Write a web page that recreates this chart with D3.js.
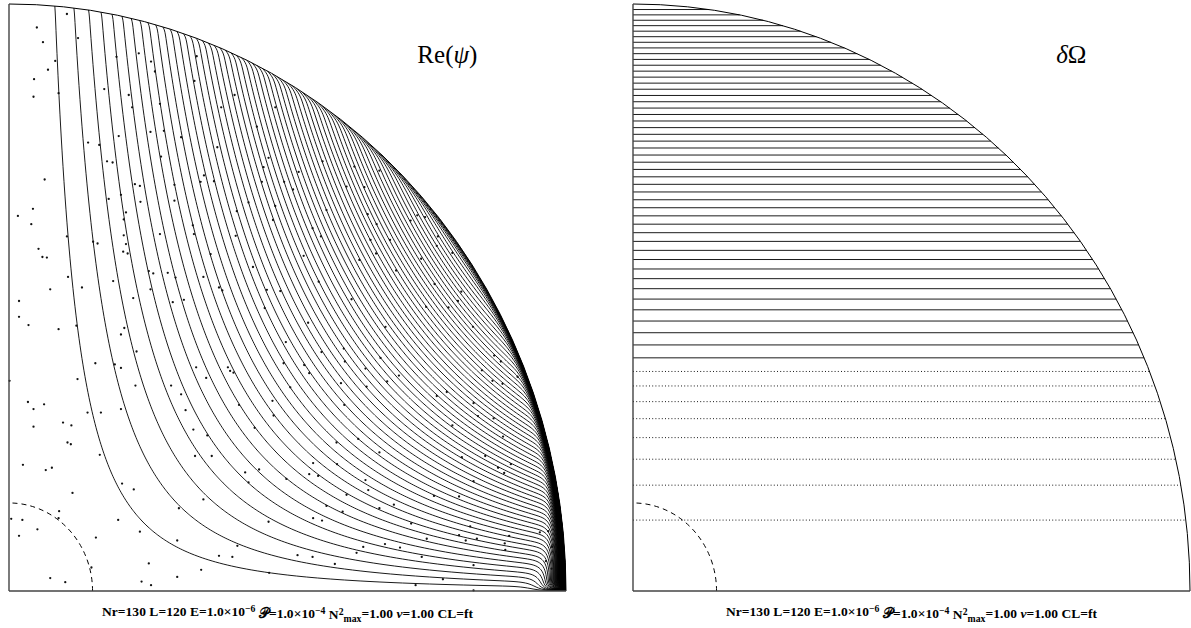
<!DOCTYPE html>
<html>
<head>
<meta charset="utf-8">
<script src="https://cdn.jsdelivr.net/npm/d3@7"></script>
<style>
	body { margin: 0; background: #fff; }
	svg { display: block; }
</style>
</head>
<body>
<div id="chart"></div>
<script>
// ---- values ----

// Re(psi): contour levels, one per streamline (uniform step)
var psiLevels = [0.0068, 0.0136, 0.0204, 0.0272, 0.0340, 0.0408, 0.0476, 0.0544, 0.0612, 0.0680,
	0.0748, 0.0816, 0.0884, 0.0952, 0.1020, 0.1088, 0.1156, 0.1224, 0.1292, 0.1360,
	0.1428, 0.1496, 0.1564, 0.1632, 0.1700, 0.1768, 0.1836, 0.1904, 0.1972, 0.2040,
	0.2108, 0.2176, 0.2244, 0.2312, 0.2380, 0.2448, 0.2516, 0.2584, 0.2652, 0.2720,
	0.2788, 0.2856, 0.2924, 0.2992, 0.3060, 0.3128, 0.3196, 0.3264, 0.3332, 0.3400,
	0.3468, 0.3536, 0.3604, 0.3672, 0.3740, 0.3808, 0.3876, 0.3944, 0.4012, 0.4080,
	0.4148, 0.4216, 0.4284, 0.4352, 0.4420, 0.4488];

// delta Omega: height z of each (horizontal) contour, bottom to top
var omegaLevelZ = [0.1208, 0.1803, 0.2245, 0.2613, 0.2936, 0.3226, 0.3493, 0.3740,
	0.3972, 0.4192, 0.4400, 0.4599, 0.4790, 0.4973, 0.5150, 0.5321, 0.5486, 0.5647,
	0.5803, 0.5956, 0.6104, 0.6249, 0.6391, 0.6529, 0.6665, 0.6798, 0.6928, 0.7056,
	0.7182, 0.7305, 0.7427, 0.7547, 0.7664, 0.7780, 0.7894, 0.8007, 0.8118, 0.8227,
	0.8335, 0.8442, 0.8548, 0.8652, 0.8754, 0.8856, 0.8957, 0.9056, 0.9154, 0.9252,
	0.9348, 0.9443, 0.9537, 0.9631, 0.9723, 0.9815, 0.9906];
var omegaNegative = 8;   // lowest levels are drawn dotted

var innerRadius = 0.15;

// small stray marks in the Re(psi) panel, [s, z]
var psiDots = [
	[0.050,0.960],[0.061,0.935],[0.083,0.903],[0.070,0.888],[0.045,0.872],[0.044,0.842],[0.104,0.983],
	[0.124,0.942],[0.089,0.848],[0.171,0.855],[0.193,0.910],[0.233,0.916],[0.255,0.902],[0.262,0.885],
	[0.215,0.845],[0.221,0.824],[0.271,0.830],[0.197,0.775],[0.142,0.764],[0.162,0.760],[0.176,0.732],
	[0.186,0.730],[0.254,0.782],[0.278,0.784],[0.309,0.773],[0.273,0.740],[0.064,0.701],[0.226,0.693],
	[0.235,0.690],[0.297,0.692],[0.201,0.675],[0.179,0.668],[0.337,0.911],[0.333,0.869],[0.381,0.824],
	[0.405,0.845],[0.374,0.756],[0.350,0.708],[0.344,0.697],[0.368,0.698],[0.445,0.791],[0.466,0.738],
	[0.457,0.722],[0.478,0.824],[0.454,0.697],[0.520,0.714],[0.510,0.684],[0.043,0.651],[0.016,0.639],
	[0.040,0.625],[0.053,0.583],[0.060,0.569],[0.068,0.568],[0.074,0.514],[0.018,0.494],[0.018,0.467],
	[0.035,0.453],[0.089,0.446],[0.001,0.358],[0.123,0.361],[0.104,0.604],[0.106,0.535],[0.131,0.517],
	[0.121,0.452],[0.151,0.595],[0.159,0.592],[0.155,0.388],[0.210,0.645],[0.206,0.633],[0.206,0.606],
	[0.210,0.591],[0.205,0.578],[0.213,0.575],[0.187,0.528],[0.223,0.499],[0.207,0.448],[0.201,0.437],
	[0.229,0.408],[0.190,0.386],[0.201,0.380],[0.227,0.350],[0.236,0.663],[0.297,0.665],[0.271,0.608],
	[0.251,0.545],[0.259,0.541],[0.285,0.542],[0.299,0.534],[0.254,0.514],[0.294,0.492],[0.314,0.496],
	[0.291,0.350],[0.309,0.335],[0.330,0.623],[0.332,0.608],[0.362,0.574],[0.349,0.535],[0.377,0.517],
	[0.383,0.512],[0.336,0.381],[0.354,0.363],[0.393,0.381],[0.397,0.375],[0.403,0.372],[0.409,0.647],
	[0.407,0.605],[0.430,0.662],[0.438,0.552],[0.478,0.656],[0.474,0.632],[0.459,0.482],[0.463,0.513],
	[0.487,0.511],[0.497,0.424],[0.493,0.388],[0.505,0.347],[0.494,0.697],[0.034,0.322],[0.063,0.318],
	[0.044,0.310],[0.044,0.280],[0.097,0.287],[0.112,0.282],[0.105,0.253],[0.111,0.250],[0.025,0.215],
	[0.066,0.206],[0.077,0.210],[0.114,0.167],[0.090,0.136],[0.089,0.124],[0.004,0.123],[0.024,0.121],
	[0.051,0.105],[0.018,0.094],[0.156,0.091],[0.148,0.040],[0.074,0.022],[0.101,0.015],[0.141,0.304],
	[0.165,0.304],[0.201,0.310],[0.163,0.232],[0.203,0.183],[0.224,0.173],[0.196,0.121],[0.235,0.101],
	[0.251,0.047],[0.238,0.016],[0.255,0.010],[0.302,0.024],[0.302,0.086],[0.305,0.141],[0.345,0.036],
	[0.377,0.060],[0.401,0.058],[0.410,0.077],[0.467,0.031],[0.466,0.118],[0.518,0.061],[0.349,0.156],
	[0.317,0.308],[0.331,0.275],[0.334,0.230],[0.364,0.230],[0.356,0.265],[0.424,0.202],[0.449,0.207],
	[0.430,0.185],[0.498,0.191],[0.413,0.317],[0.441,0.278],[0.475,0.299],[0.473,0.324],[0.563,0.732],
	[0.620,0.723],[0.665,0.716],[0.606,0.689],[0.638,0.688],[0.570,0.649],[0.644,0.642],[0.660,0.625],
	[0.545,0.618],[0.560,0.604],[0.649,0.598],[0.684,0.598],[0.659,0.575],[0.629,0.564],[0.529,0.571],
	[0.740,0.566],[0.695,0.546],[0.721,0.631],[0.733,0.640],[0.747,0.637],[0.770,0.604],[0.768,0.588],
	[0.796,0.576],[0.556,0.527],[0.615,0.497],[0.537,0.457],[0.676,0.450],[0.764,0.523],[0.812,0.510],
	[0.806,0.494],[0.789,0.483],[0.749,0.484],[0.833,0.450],[0.601,0.413],[0.561,0.407],[0.603,0.391],
	[0.667,0.397],[0.530,0.385],[0.539,0.371],[0.640,0.379],[0.700,0.367],[0.596,0.354],[0.642,0.348],
	[0.679,0.357],[0.768,0.332],[0.786,0.339],[0.849,0.376],[0.871,0.401],[0.883,0.391],[0.868,0.358],
	[0.886,0.353],[0.913,0.365],[0.602,0.317],[0.834,0.320],[0.842,0.298],[0.870,0.294],[0.796,0.282],
	[0.627,0.259],[0.588,0.253],[0.665,0.236],[0.887,0.263],[0.813,0.228],[0.855,0.230],[0.878,0.210],
	[0.889,0.201],[0.901,0.216],[0.546,0.218],[0.589,0.216],[0.539,0.199],[0.555,0.196],[0.640,0.189],
	[0.645,0.172],[0.606,0.164],[0.834,0.187],[0.808,0.161],[0.763,0.162],[0.570,0.145],[0.599,0.135],
	[0.665,0.141],[0.691,0.147],[0.546,0.124],[0.562,0.120],[0.722,0.115],[0.828,0.110],[0.750,0.089],
	[0.820,0.086],[0.840,0.089],[0.808,0.095],[0.898,0.094],[0.890,0.081],[0.891,0.070],[0.953,0.100],
	[0.968,0.102],[0.975,0.075],[0.636,0.075],[0.675,0.080],[0.702,0.074],[0.624,0.065],[0.741,0.058],
	[0.545,0.058],[0.585,0.046],[0.834,0.044],[0.964,0.051],[0.974,0.038],[0.779,0.020],[0.730,0.010],
	[0.834,0.001],[0.980,0.013]
];

var titles = [
	[{t: "Re(", i: false}, {t: "ψ", i: true}, {t: ")", i: false}],
	[{t: "δ", i: true}, {t: "Ω", i: false}]
];
var footer = [
	{t: "Nr=130 L=120 E=1.0×10"}, {t: "−6", sup: 1}, {t: " 𝒫=1.0×10"}, {t: "−4", sup: 1},
	{t: " N"}, {t: "2", sup: 1}, {t: "max", sub: 1}, {t: "=1.00 "}, {t: "ν", i: 1}, {t: "=1.00 CL=ft"}
];

// ---- layout ----
var width = 1191, height = 628;
var panelWidth = 557;
var panelLeft = [9, 633];
var footerWidth = 371;

var svg = d3.select("#chart").append("svg")
	.attr("width", width)
	.attr("height", height);

function makeScales(x0) {
	return {
		x: d3.scaleLinear().domain([0, 1]).range([x0, x0 + panelWidth]),
		y: d3.scaleLinear().domain([0, 1]).range([591, 4])
	};
}
var scL = makeScales(panelLeft[0]);
var scR = makeScales(panelLeft[1]);

function quarterArc(sc, r) {
	var rx = sc.x(r) - sc.x(0), ry = sc.y(0) - sc.y(r);
	return "M" + sc.x(r) + "," + sc.y(0) + "A" + rx + "," + ry + " 0 0 0 " + sc.x(0) + "," + sc.y(r);
}

function drawFrame(g, sc) {
	g.append("path")
		.attr("d", quarterArc(sc, innerRadius))
		.attr("fill", "none").attr("stroke", "#000").attr("stroke-width", 1)
		.attr("stroke-dasharray", "5,4");
	g.append("path")
		.attr("d", quarterArc(sc, 1))
		.attr("fill", "none").attr("stroke", "#000").attr("stroke-width", 1);
	g.append("line")
		.attr("x1", sc.x(0)).attr("y1", sc.y(0)).attr("x2", sc.x(0)).attr("y2", sc.y(1))
		.attr("stroke", "#444").attr("stroke-width", 1.4);
	g.append("line")
		.attr("x1", sc.x(0)).attr("y1", sc.y(0)).attr("x2", sc.x(1)).attr("y2", sc.y(0))
		.attr("stroke", "#444").attr("stroke-width", 1.4);
}

function drawTitle(g, sc, parts) {
	var t = g.append("text")
		.attr("x", sc.x(0.787)).attr("y", sc.y(0.9))
		.attr("text-anchor", "middle")
		.attr("font-family", "'Liberation Serif', 'DejaVu Serif', serif")
		.attr("font-size", 25);
	parts.forEach(function(p) {
		t.append("tspan").text(p.t).attr("font-style", p.i ? "italic" : "normal");
	});
}

function drawFooter(g, sc) {
	// the browser stretches the spacing to the width of the original line
	var t = g.append("text")
		.attr("x", sc.x(0.5) - footerWidth / 2).attr("y", 616)
		.attr("textLength", footerWidth)
		.attr("lengthAdjust", "spacing")
		.attr("font-family", "'Liberation Serif', 'DejaVu Serif', serif")
		.attr("font-weight", "bold")
		.attr("font-size", 13.5);
	var shift = 0;
	footer.forEach(function(p) {
		var ts = t.append("tspan").text(p.t);
		var target = p.sup ? -0.4 : (p.sub ? 0.28 : 0);
		ts.attr("dy", (target - shift) + "em");
		if (p.sup || p.sub) ts.attr("font-size", "0.72em");
		if (p.i) ts.attr("font-style", "italic");
		shift = target;
	});
}

// ---- left panel: Re(psi) streamlines ----
// streamfunction shape: s^2 z in the bulk, plus a thin layer along the
// outer sphere that carries the lines down into the equatorial corner
var PMAX = 2 / (3 * Math.sqrt(3)), ZSTAR = 1 / Math.sqrt(3), OVER = 0.07;
function psiField(s, z) {
	var r = Math.hypot(s, z);
	if (r > 1) { s /= r; z /= r; r = 1; }
	var bulk = s * s * z;
	var sw2 = 1 - z * z;
	var wallBulk = sw2 * z;
	var wall = (z >= ZSTAR ? wallBulk : PMAX) + OVER * sw2 * Math.sqrt(sw2);
	var delta = 0.0035 + 0.012 * Math.exp(-z / 0.08);
	var layer = Math.exp(-(1 - r) / delta) * (1 - Math.exp(-z / 0.006));
	return bulk + (wall - wallBulk) * layer;
}

var gL = svg.append("g");
gL.append("clipPath").attr("id", "disk-left")
	.append("path")
	.attr("d", quarterArc(scL, 1) + "L" + scL.x(0) + "," + scL.y(0) + "Z");

var nx = 578, ny = 608, hs = 1 / 557, hz = 1 / 587;
var values = new Float64Array(nx * ny);
for (var j = 0; j < ny; j++) {
	for (var i = 0; i < nx; i++) {
		values[j * nx + i] = psiField(i * hs, j * hz);
	}
}
var contours = d3.contours().size([nx, ny]).thresholds(psiLevels)(values);
var gridToPanel = d3.geoTransform({
	point: function(px, py) {
		this.stream.point(scL.x((px - 0.5) * hs), scL.y((py - 0.5) * hz));
	}
});
gL.append("g")
	.attr("clip-path", "url(#disk-left)")
	.selectAll("path")
	.data(contours)
	.join("path")
		.attr("d", d3.geoPath(gridToPanel))
		.attr("fill", "none")
		.attr("stroke", "#000")
		.attr("stroke-width", 0.9);

gL.append("g").selectAll("circle")
	.data(psiDots)
	.join("circle")
		.attr("cx", function(d) { return scL.x(d[0]); })
		.attr("cy", function(d) { return scL.y(d[1]); })
		.attr("r", 1.15)
		.attr("fill", "#111");

drawFrame(gL, scL);
drawTitle(gL, scL, titles[0]);
drawFooter(gL, scL);

// ---- right panel: delta Omega ----
var gR = svg.append("g");
gR.append("g").selectAll("line")
	.data(omegaLevelZ)
	.join("line")
		.attr("x1", scR.x(0))
		.attr("x2", function(z) { return scR.x(Math.sqrt(1 - z * z)); })
		.attr("y1", function(z) { return scR.y(z); })
		.attr("y2", function(z) { return scR.y(z); })
		.attr("stroke", "#000")
		.attr("stroke-width", 0.9)
		.attr("stroke-dasharray", function(z, k) { return k < omegaNegative ? "1,2.2" : null; });

drawFrame(gR, scR);
drawTitle(gR, scR, titles[1]);
drawFooter(gR, scR);
</script>
</body>
</html>
